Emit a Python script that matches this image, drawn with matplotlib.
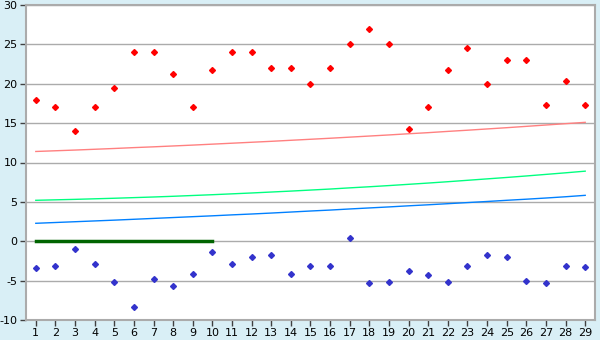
import matplotlib
matplotlib.use('Agg')
import matplotlib.pyplot as plt

plt.rcParams['axes.unicode_minus'] = False

days = list(range(1, 30))

upper_pts = [18.0, 17.0, 14.0, 17.0, 19.5, 24.0, 24.0, 21.2, 17.0, 21.8,
             24.0, 24.0, 22.0, 22.0, 20.0, 22.0, 25.0, 27.0, 25.0, 14.2,
             17.0, 21.8, 24.5, 20.0, 23.0, 23.0, 17.3, 20.4, 17.3]
lower_pts = [-3.4, -3.1, -1.0, -2.9, -5.2, -8.3, -4.8, -5.7, -4.2, -1.4,
             -2.9, -2.0, -1.8, -4.1, -3.1, -3.2, 0.4, -5.3, -5.2, -3.8,
             -4.3, -5.2, -3.1, -1.8, -2.0, -5.0, -5.3, -3.1, -3.3]

pink_line = [11.40, 11.49, 11.58, 11.68, 11.78, 11.89, 11.99, 12.10, 12.21, 12.33,
             12.45, 12.57, 12.69, 12.82, 12.95, 13.08, 13.22, 13.36, 13.50, 13.65,
             13.79, 13.95, 14.10, 14.26, 14.42, 14.59, 14.76, 14.93, 15.10]
green_line = [5.20, 5.26, 5.32, 5.39, 5.46, 5.54, 5.62, 5.71, 5.81, 5.91,
              6.02, 6.13, 6.25, 6.37, 6.50, 6.63, 6.78, 6.92, 7.07, 7.23,
              7.39, 7.56, 7.74, 7.92, 8.10, 8.29, 8.49, 8.69, 8.90]
blue_line = [2.28, 2.38, 2.48, 2.58, 2.68, 2.79, 2.90, 3.01, 3.12, 3.23,
             3.35, 3.46, 3.58, 3.71, 3.84, 3.96, 4.10, 4.23, 4.36, 4.50,
             4.63, 4.77, 4.91, 5.05, 5.20, 5.34, 5.49, 5.65, 5.83]

zero_x = [1, 10]
zero_y = [0, 0]

bg = '#d9eff6'
grid_col = '#ababab'

fig = plt.figure(figsize=(6, 3.4), dpi=100, facecolor=bg)
ax = fig.add_axes([26 / 600, 20 / 340, 569 / 600, 315 / 340])
ax.set_facecolor('white')

ax.set_xlim(0.5, 29.5)
ax.set_ylim(-10, 30)
ax.set_yticks(range(-10, 31, 5))
ax.set_xticks(days)
ax.yaxis.grid(True, color=grid_col, linewidth=1)
ax.set_axisbelow(True)

ax.plot(days, pink_line, color='#ff8080', linewidth=1)
ax.plot(days, green_line, color='#00ff80', linewidth=1)
ax.plot(days, blue_line, color='#0080ff', linewidth=1)
ax.plot(zero_x, zero_y, color='#006400', linewidth=2.5)

ax.plot(days, upper_pts, linestyle='none', marker='D', markersize=3,
        color='#ff0000')
ax.plot(days, lower_pts, linestyle='none', marker='D', markersize=3,
        color='#3333cc')

for s in ax.spines.values():
    s.set_color(grid_col)
    s.set_linewidth(1.5)

ax.tick_params(axis='both', colors='black', labelsize=8, length=4,
               width=1, pad=2)
ax.tick_params(axis='both', which='both', color='#404040')

fig.savefig('out.png', dpi=100, facecolor=bg)
